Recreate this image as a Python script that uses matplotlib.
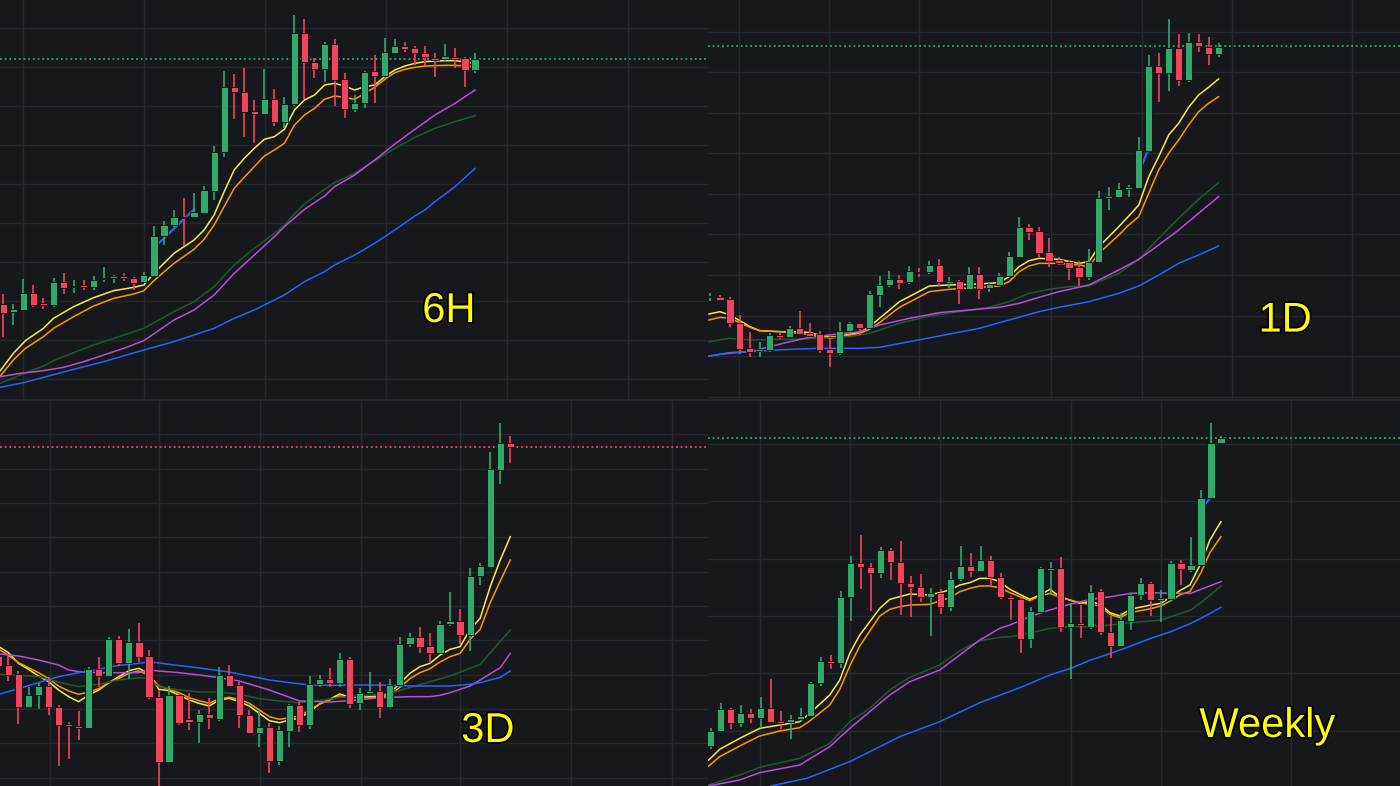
import numpy as np
import matplotlib.pyplot as plt
import matplotlib.patheffects as pe
from matplotlib.lines import Line2D

# ---------------------------------------------------------------
# Candle data (arbitrary price units)
# ---------------------------------------------------------------
# 6H
h6_open = [288, 263, 270, 322, 290, 285, 355, 338, 345, 340, 362, 367, 372, 365, 355, 372,
           492, 525, 550, 548, 562, 628, 745, 938, 923, 867, 857, 902, 835, 888, 1102, 1015,
           993, 1068, 962, 872, 890, 987, 972, 1042, 1062, 1055, 1040, 1025, 1022, 1030, 1025, 990]
h6_high = [318, 288, 362, 345, 305, 365, 382, 360, 360, 372, 400, 375, 382, 370, 385, 522,
           538, 570, 607, 620, 642, 762, 988, 978, 995, 900, 992, 932, 908, 1155, 1143, 1025,
           1075, 1082, 982, 915, 988, 1035, 1085, 1082, 1075, 1063, 1062, 1042, 1068, 1055, 1030, 1042]
h6_low = [190, 225, 268, 280, 272, 278, 318, 322, 330, 330, 355, 350, 358, 330, 350, 370,
          465, 520, 462, 545, 560, 600, 728, 842, 788, 772, 855, 822, 815, 882, 902, 965,
          955, 882, 845, 863, 875, 892, 965, 1038, 1045, 1005, 1005, 968, 1015, 995, 938, 982]
h6_close = [262, 272, 322, 285, 285, 355, 335, 342, 340, 360, 365, 370, 365, 350, 375, 492,
            525, 550, 545, 565, 630, 745, 938, 924, 865, 857, 902, 835, 888, 1102, 1015, 993,
            1068, 960, 872, 890, 985, 972, 1045, 1062, 1052, 1040, 1028, 1020, 1032, 1022, 990, 1023]

# 1D
d1_open = [308, 310, 302, 232, 155, 148, 150, 195, 190, 215, 202, 198, 152, 140, 208, 230,
           215, 315, 345, 362, 355, 385, 385, 405, 352, 358, 332, 378, 335, 345, 372, 430,
           518, 508, 445, 420, 415, 400, 368, 415, 605, 610, 634, 635, 748, 1003, 980, 1055,
           960, 1075, 1060, 1038]
d1_high = [322, 315, 310, 255, 205, 175, 202, 205, 222, 268, 232, 208, 185, 235, 235, 232,
           328, 372, 388, 375, 402, 395, 418, 422, 370, 360, 398, 398, 355, 382, 445, 548,
           528, 518, 485, 430, 418, 418, 452, 628, 640, 652, 645, 788, 1035, 1042, 1143, 1098,
           1100, 1098, 1088, 1072]
d1_low = [298, 297, 218, 138, 130, 128, 145, 182, 188, 195, 188, 142, 100, 135, 205, 195,
          212, 278, 338, 332, 348, 370, 378, 342, 335, 288, 330, 302, 325, 342, 368, 425,
          480, 428, 400, 405, 360, 342, 360, 410, 570, 605, 608, 632, 745, 895, 928, 942,
          955, 1045, 1005, 1030]
d1_close = [310, 300, 232, 152, 145, 152, 195, 188, 215, 198, 192, 150, 140, 208, 230, 215,
            318, 345, 362, 352, 388, 380, 405, 355, 355, 332, 378, 332, 348, 372, 432, 518,
            505, 442, 418, 412, 395, 368, 415, 605, 612, 632, 638, 750, 1003, 980, 1055, 960,
            1075, 1062, 1038, 1060]

# 3D
t3_open = [390, 363, 336, 236, 273, 300, 236, 186, 180, 173, 350, 330, 440, 368, 433, 390,
           268, 73, 273, 200, 193, 216, 200, 333, 303, 213, 158, 178, 76, 166, 243, 183,
           306, 320, 308, 380, 248, 280, 286, 236, 303, 425, 446, 420, 400, 486, 496, 453,
           630, 658, 948, 1030]
t3_high = [398, 393, 346, 296, 308, 328, 243, 193, 226, 358, 388, 446, 450, 470, 490, 408,
           288, 300, 280, 278, 228, 263, 358, 363, 313, 228, 228, 188, 180, 246, 253, 330,
           333, 353, 398, 388, 293, 343, 313, 320, 446, 460, 476, 458, 496, 583, 530, 653,
           670, 1003, 1090, 1050]
t3_low = [353, 316, 186, 233, 230, 213, 60, 80, 138, 170, 296, 328, 360, 320, 373, 260,
          -10, 70, 183, 168, 128, 170, 196, 298, 173, 156, 116, 38, 63, 116, 163, 170,
          296, 296, 296, 233, 228, 278, 203, 233, 298, 418, 400, 368, 396, 480, 426, 406,
          603, 656, 906, 970]
t3_close = [360, 333, 236, 273, 300, 236, 183, 180, 175, 350, 330, 440, 368, 433, 386, 266,
            73, 273, 190, 193, 216, 203, 333, 300, 213, 158, 176, 76, 168, 243, 183, 306,
            320, 308, 380, 246, 280, 286, 238, 303, 425, 446, 418, 400, 486, 496, 453, 630,
            660, 950, 1030, 1016]

# Weekly
wk_open = [120, 166, 231, 188, 218, 203, 233, 196, 193, 200, 210, 308, 376, 368, 566, 668,
           658, 638, 708, 673, 610, 596, 566, 580, 538, 620, 660, 646, 678, 628, 568, 560,
           440, 523, 648, 653, 478, 488, 478, 586, 463, 420, 496, 573, 608, 558, 560, 668,
           648, 663, 863, 1028]
wk_high = [173, 248, 233, 243, 230, 268, 320, 226, 213, 233, 313, 388, 393, 586, 690, 753,
           668, 718, 713, 736, 630, 636, 593, 590, 643, 720, 698, 720, 690, 638, 570, 568,
           536, 656, 673, 688, 548, 543, 603, 590, 510, 520, 580, 623, 613, 588, 676, 678,
           748, 888, 1090, 1050]
wk_low = [110, 163, 170, 176, 188, 173, 190, 170, 140, 196, 208, 300, 350, 353, 496, 590,
          526, 623, 618, 513, 506, 553, 450, 516, 526, 616, 628, 643, 603, 560, 498, 398,
          413, 520, 573, 463, 320, 443, 470, 453, 383, 416, 468, 558, 510, 493, 556, 603,
          643, 660, 860, 1026]
wk_close = [166, 231, 188, 218, 203, 233, 193, 190, 200, 210, 310, 376, 368, 568, 668, 658,
            638, 708, 673, 608, 596, 566, 580, 538, 620, 660, 646, 678, 628, 566, 560, 440,
            526, 653, 653, 478, 488, 483, 583, 463, 420, 498, 573, 608, 558, 563, 668, 650,
            663, 863, 1030, 1043]

# moving averages, read as (candle index, value) points
h6_yellow = [(-0.3, 88), (1, 140), (2.2, 178), (4, 215), (5, 245), (7, 280), (9, 307), (11, 328),
             (13, 338), (14, 345), (15, 380), (17, 440), (19, 480), (20, 510), (21, 555), (22, 625),
             (23, 690), (24, 725), (25, 755), (26, 782), (27, 790), (28, 812), (29, 870), (30, 900),
             (31, 915), (32, 945), (33, 950), (34, 942), (35, 930), (36, 940), (37, 945), (38, 970),
             (39, 990), (40, 1002), (41, 1010), (42, 1015), (43, 1017), (44, 1018), (45, 1018),
             (46, 1014), (47, 1010)]
h6_orange = [(-0.3, 72), (1, 120), (2.2, 155), (4, 190), (5, 215), (7, 250), (9, 282), (11, 305),
             (13, 318), (14, 328), (15, 358), (17, 410), (19, 452), (20, 482), (21, 525), (22, 580),
             (23, 635), (24, 668), (25, 700), (26, 732), (27, 750), (28, 770), (29, 825), (30, 855),
             (31, 875), (32, 902), (33, 912), (34, 908), (35, 902), (36, 920), (37, 938), (38, 962),
             (39, 982), (40, 992), (41, 998), (42, 1002), (43, 1003), (44, 1004), (45, 1004),
             (46, 1002), (47, 1000)]
h6_green = [(-0.3, 50), (1.7, 75), (4, 102), (5, 118), (7, 142), (9, 165), (11, 185), (14, 215),
            (17, 265), (19, 295), (21, 340), (23, 405), (25, 455), (27, 500), (28, 525), (29, 558),
            (30, 588), (32, 632), (33, 652), (35, 680), (37, 718), (39, 755), (41, 788), (43, 815),
            (45, 835), (47, 853)]
h6_purple = [(-0.3, 70), (1.7, 80), (4, 88), (6, 98), (8, 115), (10, 135), (12, 155), (14, 178),
             (17, 240), (19, 270), (21, 315), (23, 380), (25, 435), (27, 490), (28, 520), (30, 572),
             (32, 612), (33, 640), (35, 675), (37, 720), (39, 768), (41, 812), (43, 855), (45, 890),
             (47, 930)]
h6_blue = [(-0.3, 38), (2, 52), (4, 68), (7, 92), (10, 115), (14, 150), (17, 175), (19, 195),
           (21, 215), (23, 245), (25, 270), (27, 300), (28, 315), (30, 355), (32, 385), (33, 405),
           (35, 435), (37, 470), (39, 510), (41, 552), (42, 570), (43, 595), (45, 640), (47, 695)]

d1_yellow = [(-0.1, 258), (1, 265), (2, 255), (3, 238), (4, 220), (5, 208), (7, 205), (9, 205),
             (10, 202), (11, 195), (12, 188), (13, 192), (15, 202), (16, 220), (17, 245), (19, 295),
             (22, 342), (24, 345), (27, 348), (29, 352), (30, 370), (31, 400), (32, 418), (33, 425),
             (35, 422), (37, 410), (38, 415), (39, 460), (41, 520), (42, 552), (43, 585), (44, 670),
             (45, 730), (46, 795), (47, 830), (48, 878), (49, 915), (50, 938), (51, 963)]
d1_orange = [(-0.1, 240), (1, 248), (2, 245), (3, 232), (4, 218), (5, 208), (7, 205), (9, 200),
             (11, 192), (12, 185), (13, 190), (15, 200), (16, 212), (17, 232), (19, 278), (22, 325),
             (24, 332), (27, 338), (29, 342), (30, 355), (31, 385), (32, 402), (33, 410), (35, 410),
             (37, 405), (38, 400), (39, 440), (41, 495), (42, 525), (43, 550), (44, 620), (45, 690),
             (46, 740), (47, 780), (48, 825), (49, 865), (50, 890), (51, 910)]
d1_green = [(-0.1, 175), (2, 185), (4, 180), (8, 182), (11, 185), (14, 190), (16, 200), (19, 230),
            (22, 252), (25, 265), (28, 278), (30, 295), (32, 320), (34, 332), (36, 340), (38, 342),
            (41, 380), (43, 422), (45, 485), (47, 545), (49, 602), (51, 652)]
d1_purple = [(-0.1, 132), (2, 142), (4, 145), (6, 160), (8, 175), (10, 188), (12, 195), (15, 205),
             (17, 225), (20, 245), (23, 262), (26, 270), (29, 278), (31, 290), (33, 308), (35, 325),
             (38, 345), (41, 390), (43, 422), (45, 465), (47, 510), (49, 560), (51, 610)]
d1_blue = [(-0.1, 132), (2, 140), (4, 145), (8, 152), (11, 155), (15, 155), (17, 158), (20, 175),
           (23, 192), (27, 215), (30, 240), (33, 265), (35, 278), (38, 295), (41, 320), (43, 342),
           (45, 375), (47, 410), (49, 435), (51, 462)]

t3_yellow = [(0.16, 416), (1, 400), (2, 368), (3, 350), (4, 330), (5, 313), (6, 288), (7, 268),
             (8, 253), (9, 273), (10, 288), (11, 310), (12, 328), (13, 346), (14, 353), (15, 336),
             (16, 290), (17, 286), (18, 273), (19, 258), (20, 248), (21, 240), (22, 258), (23, 263),
             (24, 253), (25, 240), (26, 218), (27, 196), (28, 190), (29, 198), (30, 203), (31, 223),
             (32, 246), (33, 260), (34, 276), (35, 266), (36, 270), (37, 268), (38, 270), (39, 278),
             (40, 308), (41, 338), (42, 358), (43, 368), (44, 393), (45, 410), (46, 418), (47, 470),
             (48, 503), (49, 598), (50, 678), (51, 748)]
t3_orange = [(0.16, 408), (1, 392), (2, 370), (3, 355), (4, 340), (5, 322), (6, 300), (7, 285),
             (8, 275), (9, 282), (10, 292), (11, 310), (12, 323), (13, 338), (14, 345), (15, 332),
             (16, 300), (17, 290), (18, 280), (19, 265), (20, 256), (21, 248), (22, 262), (23, 266),
             (24, 260), (25, 248), (26, 228), (27, 208), (28, 200), (29, 205), (30, 210), (31, 228),
             (32, 246), (33, 258), (34, 270), (35, 266), (36, 266), (37, 265), (38, 266), (39, 273),
             (40, 296), (41, 322), (42, 340), (43, 352), (44, 372), (45, 388), (46, 398), (47, 440),
             (48, 470), (49, 550), (50, 615), (51, 678)]
t3_green = [(0.16, 336), (2, 332), (4, 328), (6, 312), (8, 298), (10, 305), (12, 318), (14, 325),
            (15, 322), (16, 298), (18, 288), (20, 282), (22, 282), (24, 275), (26, 262), (28, 255),
            (30, 250), (32, 256), (34, 266), (36, 270), (39, 278), (45, 330), (48, 365), (51, 468)]
t3_purple = [(0.16, 396), (2, 390), (4, 378), (6, 363), (7, 348), (8, 343), (10, 340), (12, 340),
             (14, 340), (15, 348), (16, 345), (18, 340), (20, 333), (22, 325), (24, 315), (27, 288),
             (30, 255), (33, 252), (35, 256), (37, 262), (39, 266), (41, 268), (43, 268), (44, 272),
             (45, 280), (47, 300), (48, 318), (50, 355), (51, 398)]
t3_blue = [(0.16, 276), (2, 292), (4, 310), (6, 328), (8, 340), (10, 350), (12, 362), (14, 368),
           (15, 373), (17, 365), (19, 358), (21, 350), (23, 342), (25, 330), (27, 318), (29, 310),
           (31, 303), (33, 302), (35, 303), (37, 303), (39, 302), (41, 300), (43, 300), (45, 300),
           (47, 305), (48, 310), (50, 326), (51, 345)]

wk_yellow = [(-0.2, 78), (0.9, 110), (2.9, 143), (4.9, 173), (6.9, 183), (8.9, 193), (9.9, 218),
             (11.9, 273), (12.9, 318), (13.9, 398), (14.9, 453), (15.9, 493), (16.9, 533),
             (17.9, 560), (18.9, 568), (19.9, 576), (21.9, 573), (23.9, 588), (24.9, 603),
             (25.9, 610), (26.9, 623), (27.9, 623), (28.9, 613), (29.9, 590), (31.9, 560),
             (32.9, 573), (33.9, 590), (34.9, 568), (36.9, 548), (37.9, 553), (38.9, 546),
             (39.9, 520), (40.9, 510), (41.9, 530), (44, 543), (45, 548), (46, 568), (47, 588),
             (47.9, 603), (49, 668), (49.9, 738), (51, 793)]
wk_orange = [(-0.2, 60), (0.9, 88), (2.9, 120), (4.9, 150), (6.9, 165), (8.9, 175), (9.9, 195),
             (11.9, 243), (12.9, 290), (13.9, 360), (14.9, 420), (15.9, 465), (16.9, 510),
             (17.9, 530), (18.9, 538), (19.9, 543), (21.9, 545), (23.9, 565), (24.9, 583),
             (25.9, 593), (26.9, 600), (27.9, 600), (28.9, 595), (29.9, 580), (31.9, 556),
             (32.9, 570), (33.9, 578), (34.9, 566), (36.9, 550), (37.9, 545), (38.9, 540),
             (39.9, 515), (40.9, 505), (41.9, 520), (44, 532), (45, 540), (46, 556), (47, 575),
             (47.9, 583), (49, 640), (49.9, 700), (51, 748)]
wk_green = [(-0.2, 3), (2.9, 33), (4.9, 56), (8.9, 83), (11.9, 128), (13.9, 193), (15.9, 233),
            (17.9, 288), (19.9, 326), (22.9, 363), (24.9, 406), (26.9, 436), (28.9, 446),
            (29.9, 448), (31.9, 458), (33.9, 473), (36, 478), (38, 478), (40, 483), (42, 490),
            (45, 498), (48, 528), (49, 550), (51, 600)]
wk_purple = [(-0.2, 0), (2.9, 18), (4.9, 40), (8.9, 63), (11.9, 118), (13.9, 173), (15.9, 223),
             (17.9, 273), (19.9, 313), (22.9, 348), (24.9, 393), (26.9, 438), (28.9, 473),
             (29.9, 483), (31.9, 508), (33.9, 528), (36, 546), (38, 560), (40, 568), (42, 578),
             (44, 580), (46, 578), (48, 578), (49, 590), (51, 613)]
wk_blue = [(6, 0), (9.6, 23), (13.9, 73), (18.9, 148), (22.9, 193), (26.9, 250), (31, 296),
           (33.9, 333), (36, 353), (38, 378), (40, 398), (42, 420), (44, 443), (46, 463),
           (48, 488), (49, 503), (51, 536)]

# small blue trend segments drawn on some charts
h6_seg = [(15.3, 465), (19, 572)]
d1_seg = [(43.4, 710), (43.9, 748)]
wk_seg = [(49.3, 840), (49.9, 863)]

# last price lines
h6_last, d1_last, t3_last, wk_last = 1023, 1062, 1018, 1043

# ---------------------------------------------------------------
BG = '#17181c'
GRID = '#26282d'
UP = '#2fa96c'
DOWN = '#f2435f'
MA_COLORS = ['#ffeb3b', '#ff9800', '#1f5a2a', '#b450d6', '#2962ff']


def draw_panel(ax, o, h, l, c, mas, seg, last, last_color, xlim, ylim,
               xgrid, ygrid, label, lx, ly):
    ax.set_facecolor(BG)
    o, h, l, c = map(np.asarray, (o, h, l, c))
    x = np.arange(len(o))
    col = np.where(c >= o, UP, DOWN)
    # moving averages
    for pts, color in zip(mas, MA_COLORS):
        px, py = zip(*pts)
        ax.plot(px, py, color=color, lw=1.1, zorder=2)
    if seg is not None:
        px, py = zip(*seg)
        ax.plot(px, py, color='#2962ff', lw=1.6, zorder=2)
    # candles
    ax.vlines(x, l, h, colors=col, lw=1.2, zorder=3)
    bottom = np.minimum(o, c)
    height = np.maximum(np.abs(c - o), 5)
    ax.bar(x, height, bottom=bottom, width=0.72, color=col,
           edgecolor='#0d0e10', linewidth=0.6, zorder=4)
    # last price line
    ax.axhline(last, color=last_color, lw=1.3, ls=(0, (1, 1.6)), zorder=1)
    ax.set_xlim(*xlim)
    ax.set_ylim(*ylim)
    ax.set_xticks(xgrid)
    ax.set_yticks(ygrid)
    ax.tick_params(length=0, labelbottom=False, labelleft=False)
    ax.grid(color=GRID, lw=1.0, zorder=0)
    ax.set_axisbelow(True)
    for s in ax.spines.values():
        s.set_visible(False)
    ax.text(lx, ly, label, transform=ax.transAxes, ha='center', va='baseline',
            fontsize=30, color='#ffff00', family=['Liberation Sans', 'DejaVu Sans'],
            path_effects=[pe.withStroke(linewidth=2.5, foreground='black')], zorder=6)


fig = plt.figure(figsize=(14, 7.86), dpi=100, facecolor=BG)
wl, wr = 708 / 1400, 692 / 1400
ht, hb = 400 / 786, 386 / 786
ax1 = fig.add_axes([0, hb, wl, ht])
ax2 = fig.add_axes([wl, hb, wr, ht])
ax3 = fig.add_axes([0, 0, wl, hb])
ax4 = fig.add_axes([wl, 0, wr, hb])

draw_panel(ax1, h6_open, h6_high, h6_low, h6_close,
           [h6_yellow, h6_orange, h6_green, h6_purple, h6_blue], h6_seg,
           h6_last, UP, (-0.33, 70.2), (0, 1200),
           np.arange(2, 70, 12.05), np.arange(63, 1200, 117),
           '6H', 0.634, 0.195)
draw_panel(ax2, d1_open, d1_high, d1_low, d1_close,
           [d1_yellow, d1_orange, d1_green, d1_purple, d1_blue], d1_seg,
           d1_last, UP, (-0.2, 69.2), (0, 1200),
           [2.9, 11.9, 21.0, 34.2, 43.3, 52.4, 64.4], np.arange(10.5, 1200, 121.5),
           '1D', 0.834, 0.171)
draw_panel(ax3, t3_open, t3_high, t3_low, t3_close,
           [t3_yellow, t3_orange, t3_green, t3_purple, t3_blue], None,
           t3_last, DOWN, (0.16, 70.7), (0, 1158),
           [5.1, 16, 26.1, 36.1, 46, 57.1, 67.1], np.arange(25, 1158, 103),
           '3D', 0.689, 0.114)
draw_panel(ax4, wk_open, wk_high, wk_low, wk_close,
           [wk_yellow, wk_orange, wk_green, wk_purple, wk_blue], wk_seg,
           wk_last, UP, (-0.27, 68.9), (0, 1158),
           [4.9, 13.9, 22.9, 36.0, 45.0, 58.0], np.arange(166, 1158, 172),
           'Weekly', 0.808, 0.127)

# thin separator between the upper and lower screenshots
fig.add_artist(Line2D([0, 1], [hb, hb], color=GRID, lw=1.2))

fig.savefig('out.png', dpi=100, facecolor=BG)
